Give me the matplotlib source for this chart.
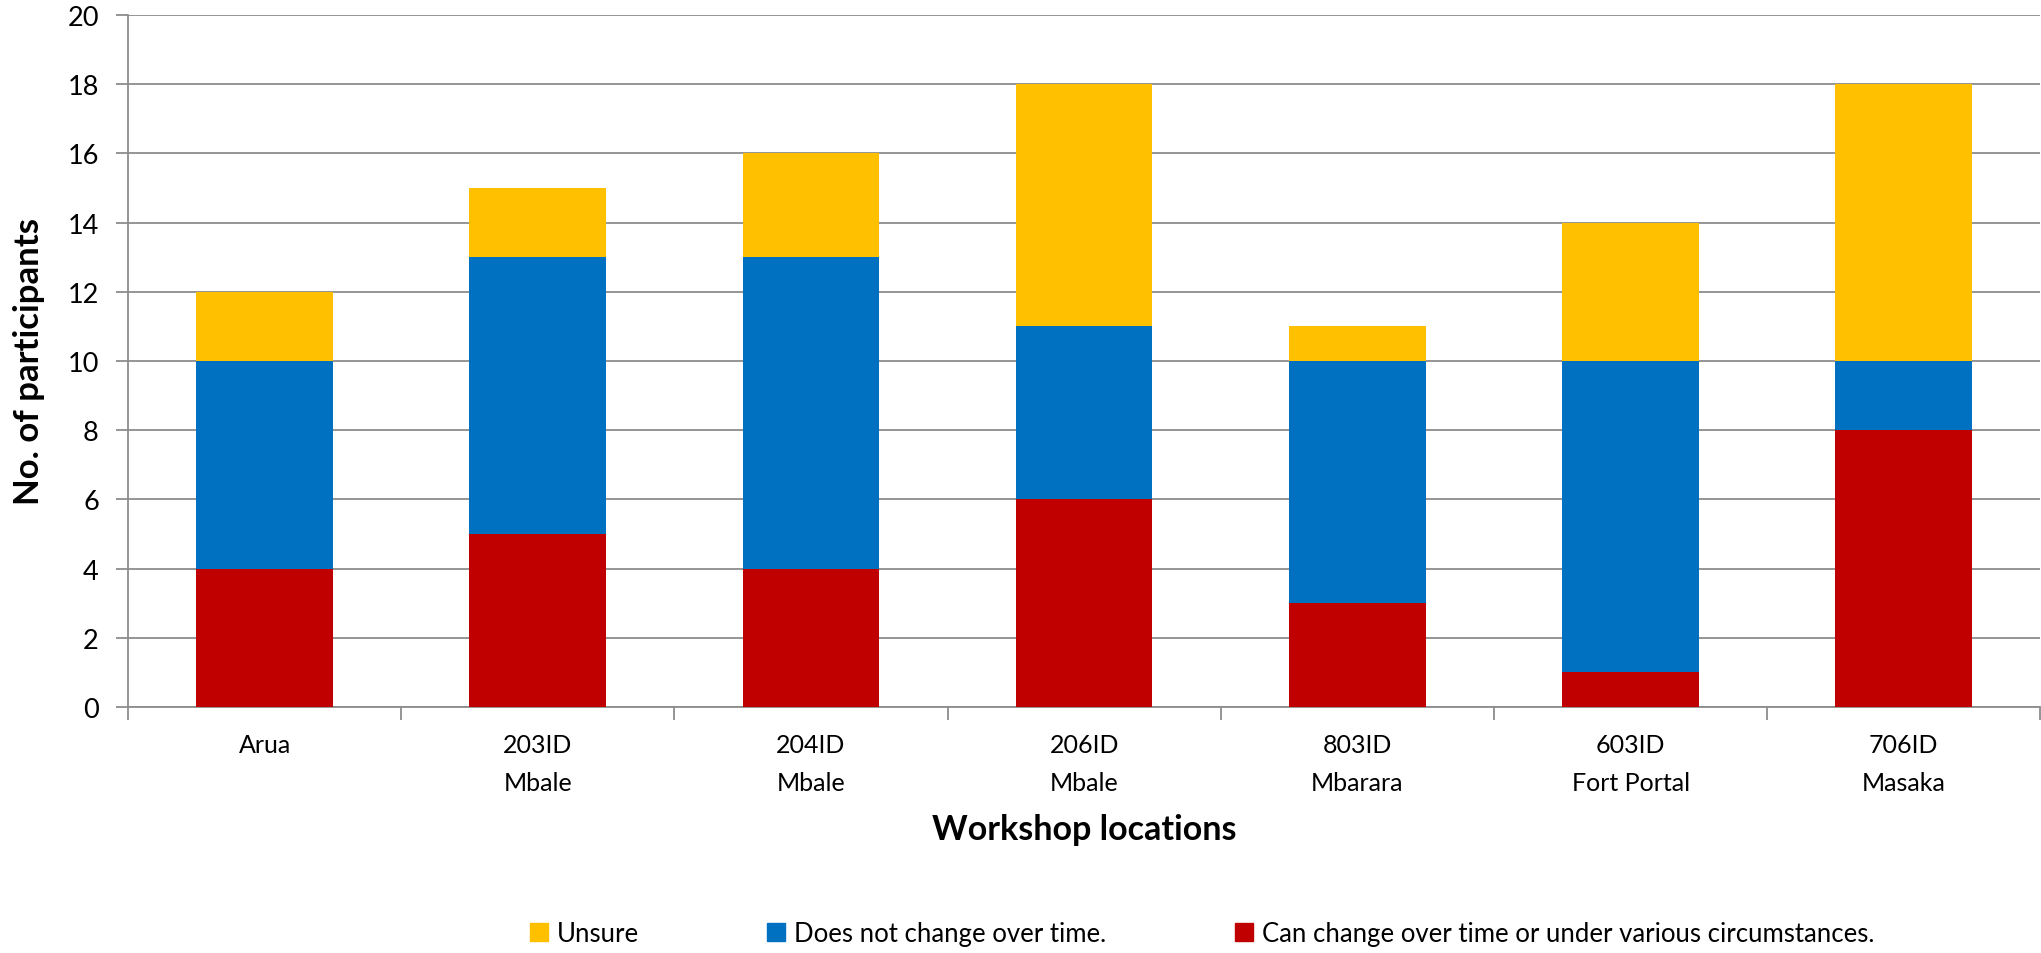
import numpy as np
import matplotlib.pyplot as plt
from matplotlib.patches import Patch

# ============================================================
# Data
# ============================================================
LOCATIONS = ["Arua", "203ID\nMbale", "204ID\nMbale", "206ID\nMbale",
             "803ID\nMbarara", "603ID\nFort Portal", "706ID\nMasaka"]

can_change = [4, 5, 4, 6, 3, 1, 8]
no_change = [6, 8, 9, 5, 7, 9, 2]
unsure = [2, 2, 3, 7, 1, 4, 8]

SERIES_NAMES = ["Unsure", "Does not change over time.",
                "Can change over time or under various circumstances."]

COLORS = {
    "unsure": "#FFC000",
    "no_change": "#0070C0",
    "can_change": "#C00000",
}
GRID = "#8C8C8C"

plt.rcParams["font.family"] = ["Lato", "DejaVu Sans"]

# ============================================================
# Plot
# ============================================================
fig = plt.figure(figsize=(20.41, 9.54), dpi=100)
ax = fig.add_axes([0.0627, 0.2579, 0.937, 0.7253])

x = np.arange(len(LOCATIONS))
w = 0.5
c = np.array(can_change)
n = np.array(no_change)
u = np.array(unsure)

ax.bar(x, c, w, color=COLORS["can_change"], zorder=3)
ax.bar(x, n, w, bottom=c, color=COLORS["no_change"], zorder=3)
ax.bar(x, u, w, bottom=c + n, color=COLORS["unsure"], zorder=3)

ax.set_xlim(-0.5, len(LOCATIONS) - 0.5)
ax.set_ylim(0, 20)
ax.set_yticks(range(0, 21, 2))
ax.yaxis.grid(True, color=GRID, linewidth=1.3, zorder=0)

ax.set_xticks(x)
ax.set_xticklabels(LOCATIONS, fontsize=18, linespacing=1.75)
ax.set_xticks(np.arange(-0.5, len(LOCATIONS), 1.0), minor=True)
ax.tick_params(axis="x", which="major", length=0, pad=19)
ax.tick_params(axis="x", which="minor", length=9, color=GRID, width=1.3)
ax.tick_params(axis="y", length=9, color=GRID, width=1.3, labelsize=19.5, pad=12)

for side in ["top", "right"]:
    ax.spines[side].set_visible(False)
for side in ["left", "bottom"]:
    ax.spines[side].set_color(GRID)
    ax.spines[side].set_linewidth(1.3)

ax.set_ylabel("No. of participants", fontsize=25, fontweight="bold", labelpad=16)
ax.set_xlabel("Workshop locations", fontsize=24.5, fontweight="bold", labelpad=14)

handles = [
    Patch(color=COLORS["unsure"]),
    Patch(color=COLORS["no_change"]),
    Patch(color=COLORS["can_change"]),
]
fig.legend(handles, SERIES_NAMES, loc="center", bbox_to_anchor=(0.589, 0.02),
           ncol=3, frameon=False, fontsize=18.5, handlelength=0.7,
           handleheight=0.7, handletextpad=0.35, columnspacing=5.0)

fig.savefig("out.png", dpi=100)
